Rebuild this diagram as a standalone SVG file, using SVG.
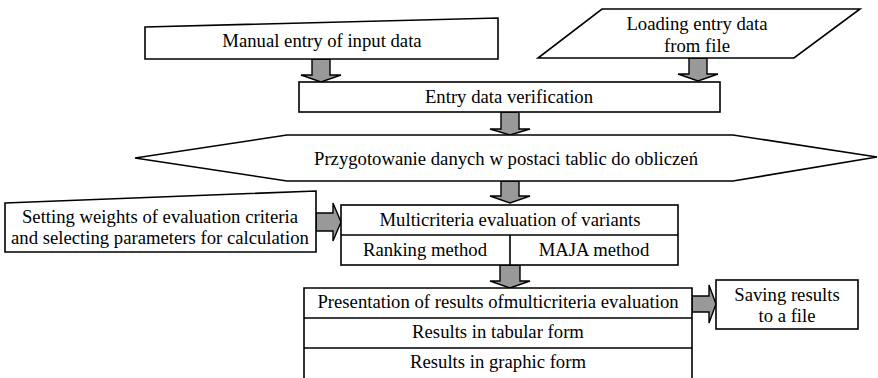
<svg xmlns="http://www.w3.org/2000/svg" width="878" height="378" viewBox="0 0 878 378">
  <style>
    .shape { fill: #ffffff; stroke: #000000; stroke-width: 1.6; }
    .line { fill: none; stroke: #000000; stroke-width: 1.6; }
    .arrow { fill: #999999; stroke: #000000; stroke-width: 1.4; stroke-linejoin: miter; }
    .label { font-family: 'Liberation Serif', 'Times New Roman', serif; font-size: 18.7px; fill: #000000; text-anchor: middle; }
  </style>
  <rect width="878" height="378" fill="#ffffff"/>

  <!-- block arrows between steps -->
  <g id="connectors">
    <!-- manual entry -> verification -->
    <path class="arrow" d="M312,59 H330 V75 H341 L321,82 L301,75 H312 Z"/>
    <!-- file loading -> verification -->
    <path class="arrow" d="M689,58 H707 V74 H718 L698,81 L678,74 H689 Z"/>
    <!-- verification -> table preparation -->
    <path class="arrow" d="M501,112 H519 V129 H530 L510,135 L490,129 H501 Z"/>
    <!-- table preparation -> multicriteria evaluation -->
    <path class="arrow" d="M501,181 H519 V196 H530 L510,203 L490,196 H501 Z"/>
    <!-- weights/parameters -> multicriteria evaluation -->
    <path class="arrow" d="M316,213 H333 V203 L341,222 L333,241 V231 H316 Z"/>
    <!-- multicriteria evaluation -> presentation -->
    <path class="arrow" d="M500,265 H520 V281 H530 L510,288 L490,281 H500 Z"/>
    <!-- presentation -> saving -->
    <path class="arrow" d="M692,296 H709 V285 L716,304 L709,323 V312 H692 Z"/>
  </g>

  <!-- manual input (slanted top) -->
  <g id="manual-entry">
    <path class="shape" d="M145,27 L498,18 L498,59 L145,59 Z"/>
    <text class="label" x="322" y="47">Manual entry of input data</text>
  </g>

  <!-- data from file (parallelogram) -->
  <g id="load-from-file">
    <path class="shape" d="M602,9 L860,9 L794,58 L538,58 Z"/>
    <text class="label" x="697" y="30">Loading entry data</text>
    <text class="label" x="697" y="52">from file</text>
  </g>

  <g id="verification">
    <rect class="shape" x="299" y="82" width="421" height="30"/>
    <text class="label" x="509" y="103">Entry data verification</text>
  </g>

  <!-- preparation (hexagon) -->
  <g id="preparation">
    <path class="shape" d="M135,158 L287,135 L733,135 L877,157 L733,181 L287,181 Z"/>
    <text class="label" x="506" y="165">Przygotowanie danych w postaci tablic do obliczeń</text>
  </g>

  <!-- manual input of weights and parameters -->
  <g id="weights">
    <path class="shape" d="M5,203 L316,191 L316,252 L5,252 Z"/>
    <text class="label" x="160" y="223">Setting weights of evaluation criteria</text>
    <text class="label" x="160" y="244">and selecting parameters for calculation</text>
  </g>

  <g id="multicriteria">
    <rect class="shape" x="341" y="205" width="337" height="60"/>
    <path class="line" d="M341,235 H678 M510,235 V265"/>
    <text class="label" x="510" y="226">Multicriteria evaluation of variants</text>
    <text class="label" x="425" y="256">Ranking method</text>
    <text class="label" x="594" y="256">MAJA method</text>
  </g>

  <!-- results table, open at the bottom edge -->
  <g id="presentation">
    <path class="shape" d="M304,380 V288 H692 V380"/>
    <path class="line" d="M304,318 H692 M304,348 H692"/>
    <text class="label" x="498" y="308">Presentation of results ofmulticriteria evaluation</text>
    <text class="label" x="498" y="338">Results in tabular form</text>
    <text class="label" x="498" y="368">Results in graphic form</text>
  </g>

  <g id="saving">
    <rect class="shape" x="716" y="280" width="142" height="49"/>
    <text class="label" x="787" y="301">Saving results</text>
    <text class="label" x="787" y="322">to a file</text>
  </g>
</svg>
